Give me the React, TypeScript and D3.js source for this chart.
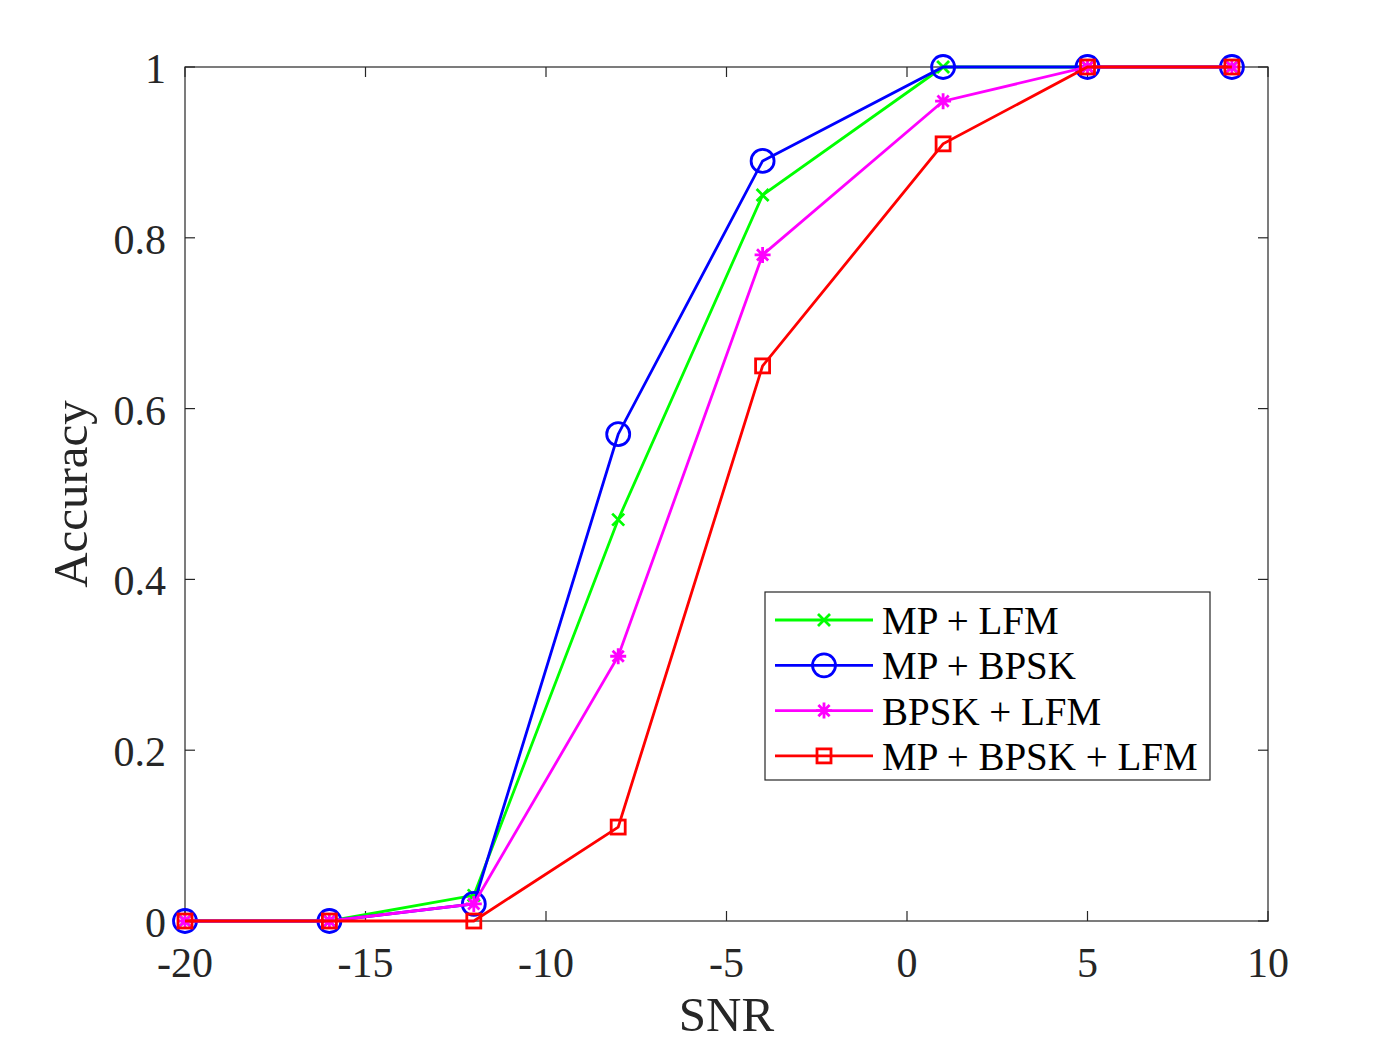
import { useEffect, useRef } from "react"
import * as d3 from "d3"

const snr = [-20, -16, -12, -8, -4, 1, 5, 9]
const mpLfm = [0, 0, 0.03, 0.47, 0.85, 1, 1, 1]
const mpBpsk = [0, 0, 0.02, 0.57, 0.89, 1, 1, 1]
const bpskLfm = [0, 0, 0.02, 0.31, 0.78, 0.96, 1, 1]
const mpBpskLfm = [0, 0, 0, 0.11, 0.65, 0.91, 1, 1]

const xTicks = [-20, -15, -10, -5, 0, 5, 10]
const yTicks = [0, 0.2, 0.4, 0.6, 0.8, 1]

const series = [
  { name: "MP + LFM", values: mpLfm, color: "#00ff00", marker: "x" },
  { name: "MP + BPSK", values: mpBpsk, color: "#0000ff", marker: "o" },
  { name: "BPSK + LFM", values: bpskLfm, color: "#ff00ff", marker: "*" },
  { name: "MP + BPSK + LFM", values: mpBpskLfm, color: "#ff0000", marker: "s" },
]

const W = 1400
const H = 1050
const FONT = "Liberation Serif, Times New Roman, serif"
const AXIS = "#262626"
const LW = 2.8

function drawMarker(g: any, type: string, x: number, y: number, color: string) {
  if (type === "o") {
    g.append("circle").attr("cx", x).attr("cy", y).attr("r", 11.5)
      .attr("fill", "none").attr("stroke", color).attr("stroke-width", LW)
  } else if (type === "s") {
    g.append("rect").attr("x", x - 7).attr("y", y - 7).attr("width", 14).attr("height", 14)
      .attr("fill", "none").attr("stroke", color).attr("stroke-width", LW)
  } else if (type === "x") {
    const r = 6
    g.append("path")
      .attr("d", `M${x - r},${y - r}L${x + r},${y + r}M${x - r},${y + r}L${x + r},${y - r}`)
      .attr("stroke", color).attr("stroke-width", LW)
  } else {
    const r = 8
    const d = r * 0.7
    g.append("path")
      .attr("d", `M${x},${y - r}L${x},${y + r}M${x - r},${y}L${x + r},${y}M${x - d},${y - d}L${x + d},${y + d}M${x - d},${y + d}L${x + d},${y - d}`)
      .attr("stroke", color).attr("stroke-width", LW)
  }
}

const App = () => {
  const ref = useRef<SVGSVGElement>(null)

  useEffect(() => {
    const svg = d3.select(ref.current)
    svg.selectAll("*").remove()

    const left = 185, right = 1268, top = 67, bottom = 921
    const x = d3.scaleLinear().domain([-20, 10]).range([left, right])
    const y = d3.scaleLinear().domain([0, 1]).range([bottom, top])

    svg.append("rect").attr("width", W).attr("height", H).attr("fill", "#fff")

    // ticks (inward, both sides)
    const tl = 10
    const axes = svg.append("g").attr("stroke", AXIS).attr("stroke-width", 1.2)
    xTicks.forEach((t) => {
      axes.append("line").attr("x1", x(t)).attr("x2", x(t)).attr("y1", bottom).attr("y2", bottom - tl)
      axes.append("line").attr("x1", x(t)).attr("x2", x(t)).attr("y1", top).attr("y2", top + tl)
    })
    yTicks.forEach((t) => {
      axes.append("line").attr("x1", left).attr("x2", left + tl).attr("y1", y(t)).attr("y2", y(t))
      axes.append("line").attr("x1", right).attr("x2", right - tl).attr("y1", y(t)).attr("y2", y(t))
    })
    axes.append("rect").attr("x", left).attr("y", top).attr("width", right - left).attr("height", bottom - top)
      .attr("fill", "none")

    const labels = svg.append("g").attr("font-family", FONT).attr("font-size", 42).attr("fill", AXIS)
    xTicks.forEach((t) => {
      labels.append("text").attr("x", x(t)).attr("y", bottom + 56).attr("text-anchor", "middle")
        .text(t < 0 ? `-${Math.abs(t)}` : `${t}`)
    })
    yTicks.forEach((t) => {
      labels.append("text").attr("x", left - 19).attr("y", y(t) + 16).attr("text-anchor", "end")
        .text(`${t}`)
    })

    svg.append("text").attr("x", (left + right) / 2).attr("y", 1031).attr("text-anchor", "middle")
      .attr("font-family", FONT).attr("font-size", 49).attr("fill", AXIS).text("SNR")
    svg.append("text").attr("transform", `translate(87,${(top + bottom) / 2}) rotate(-90)`)
      .attr("text-anchor", "middle").attr("font-family", FONT).attr("font-size", 49).attr("fill", AXIS)
      .text("Accuracy")

    const line = d3.line<number>().x((_, i) => x(snr[i])).y((d) => y(d))
    series.forEach((s) => {
      const g = svg.append("g")
      g.append("path").attr("d", line(s.values)).attr("fill", "none")
        .attr("stroke", s.color).attr("stroke-width", LW)
      s.values.forEach((v, i) => drawMarker(g, s.marker, x(snr[i]), y(v), s.color))
    })

    // legend
    const lx = 765, ly = 592, lw = 445, lh = 188
    const leg = svg.append("g")
    leg.append("rect").attr("x", lx).attr("y", ly).attr("width", lw).attr("height", lh)
      .attr("fill", "#fff").attr("stroke", AXIS).attr("stroke-width", 1.2)
    series.forEach((s, i) => {
      const cy = ly + 28 + i * 45.3
      leg.append("line").attr("x1", lx + 10).attr("x2", lx + 108).attr("y1", cy).attr("y2", cy)
        .attr("stroke", s.color).attr("stroke-width", LW)
      drawMarker(leg, s.marker, lx + 59, cy, s.color)
      leg.append("text").attr("x", lx + 117).attr("y", cy + 14).attr("font-family", FONT)
        .attr("font-size", 39).attr("fill", "#000").text(s.name)
    })
  }, [])

  return (
    <div>
      <svg ref={ref} width={W} height={H} style={{ position: "absolute", left: 0, top: 0 }} />
    </div>
  )
}

export default App
